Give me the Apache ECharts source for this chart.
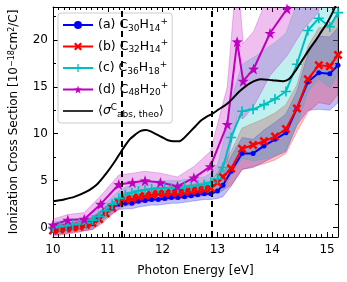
<!DOCTYPE html>
<html><head><meta charset="utf-8">
<script src="https://cdn.jsdelivr.net/npm/echarts@6/dist/echarts.min.js"></script>
<style>html,body{margin:0;padding:0;background:#fff}#c{width:347px;height:282px}</style>
</head><body><div id="c"></div><script>
// ---- data ----
const energyABC = [10.0,10.12,10.24,10.36,10.48,10.6,10.72,10.84,10.96,11.08,11.2,11.32,11.44,11.56,11.68,11.8,11.92,12.04,12.16,12.28,12.4,12.52,12.64,12.76,12.88,13.0,13.1,13.25,13.45,13.65,13.85,14.05,14.25,14.45,14.65,14.85,15.05,15.2];
const seriesA = [-0.3,-0.2,-0.1,0.0,0.1,0.2,0.4,1.0,1.6,2.1,2.5,2.6,2.6,2.8,2.9,3.0,3.0,3.1,3.2,3.2,3.3,3.4,3.5,3.6,3.6,3.9,4.5,6.0,7.9,7.9,8.7,9.4,10.1,12.7,15.5,16.5,16.4,17.3];
const errA    = [0.5,0.5,0.5,0.5,0.5,0.5,0.6,0.6,0.6,0.6,0.6,0.6,0.6,0.6,0.6,0.6,0.6,0.6,0.6,0.6,0.6,0.6,0.6,0.6,0.6,0.8,1.2,1.6,1.7,1.5,1.7,1.8,2.0,1.8,3.0,3.9,3.9,4.0];
const seriesB = [-0.3,-0.2,-0.1,0.0,0.1,0.3,0.5,0.9,1.5,2.1,2.7,3.0,3.1,3.3,3.4,3.5,3.6,3.6,3.7,3.7,3.8,3.9,4.0,4.1,4.2,4.8,5.4,6.3,8.4,8.8,9.2,9.7,10.5,12.7,15.8,17.3,17.2,18.4];
const errB    = [0.6,0.6,0.6,0.6,0.6,0.6,0.7,0.7,0.7,0.7,0.7,0.7,0.7,0.7,0.7,0.7,0.7,0.7,0.7,0.7,0.7,0.7,0.7,0.7,0.7,1.0,1.4,1.8,2.2,2.3,2.4,2.5,2.6,2.5,3.5,4.0,4.1,4.2];
const seriesC = [0.0,0.1,0.2,0.3,0.4,0.5,0.8,1.2,1.8,2.5,3.1,3.5,3.7,3.9,4.0,4.1,4.2,4.2,4.2,4.2,4.3,4.4,4.5,4.6,4.8,5.2,6.4,9.6,12.4,12.6,13.1,13.7,14.5,17.4,21.0,22.3,21.4,22.9];
const errC    = [0.6,0.6,0.6,0.6,0.6,0.6,0.8,0.8,0.8,0.8,0.8,0.8,0.8,0.8,0.8,0.8,0.8,0.8,0.8,0.8,0.8,0.8,0.8,0.8,1.0,1.5,2.5,4.0,5.0,5.5,5.8,6.0,6.2,6.5,6.5,6.5,6.5,6.5];
const energyD = [10.0,10.27,10.57,10.87,11.2,11.45,11.68,11.96,12.27,12.57,12.87,13.18,13.36,13.47,13.66,13.96,14.27,14.55,14.85];
const seriesD = [0.3,0.8,0.9,2.5,4.6,4.8,5.0,4.8,4.4,5.3,6.5,11.0,19.8,15.6,16.9,20.7,23.3,26.0,28.0];
const errD    = [0.6,0.6,0.7,0.9,1.0,1.0,1.0,1.0,1.0,1.2,1.6,4.0,8.0,4.0,4.0,4.5,5.0,5.0,5.0];
const energyTheo = [10.0,10.2,10.4,10.6,10.8,11.0,11.1,11.2,11.3,11.4,11.5,11.6,11.7,11.8,11.9,12.0,12.1,12.2,12.3,12.4,12.5,12.6,12.7,12.8,12.9,13.0,13.2,13.4,13.6,13.8,14.0,14.2,14.3,14.4,14.5,14.6,14.7,14.8,14.9,15.0,15.1,15.2];
const seriesTheo = [2.8,3.0,3.3,3.8,4.6,6.0,6.8,7.7,8.6,9.4,9.9,10.3,10.4,10.2,9.9,9.6,9.3,9.2,9.2,9.6,10.2,10.8,11.4,11.8,12.1,12.5,13.3,14.5,15.4,15.8,15.7,15.6,15.8,16.5,17.4,18.3,19.2,20.0,20.9,21.8,22.9,24.2];
const ionizationLines = [11.26, 12.9];
const yMajorTicks = [0, 5, 10, 15, 20];
const yMinorTicks = [2.5, 7.5, 12.5, 17.5, 22.5];
const legendNames = ['a', 'b', 'c', 'd', 'theo'];
const legendLabels = {
  a: '(a) C{s|30}H{s|14}{p|+}',
  b: '(b) C{s|32}H{s|14}{p|+}',
  c: '(c) C{s|36}H{s|18}{p|+}',
  d: '(d) C{s|48}H{s|20}{p|+}',
  theo: '\u27E8{i|\u03C3}{p|C}{s|abs, theo}\u27E9'
};

// ---- styling ----
const FONT = 'DejaVu Sans';
const COL = {a: '#0000ff', b: '#ff0000', c: '#00bfbf', d: '#bf00bf'};
const SYM_X = 'path://M2,0L5,3L8,0L10,2L7,5L10,8L8,10L5,7L2,10L0,8L3,5L0,2Z';
const SYM_PLUS = 'path://M4.2,0H5.8V4.2H10V5.8H5.8V10H4.2V5.8H0V4.2H4.2Z';
const SYM_STAR = 'path://M10,0L12.35,6.76L19.51,6.91L13.80,11.24L15.88,18.09L10,14L4.12,18.09L6.20,11.24L0.49,6.91L7.65,6.76Z';

function pairs(xs, ys) { return xs.map((x, i) => [x, ys[i]]); }

function band(xs, vals, errs, color) {
  return {
    type: 'custom', silent: true, clip: true, z: 1,
    data: [[xs[0], vals[0]]],
    renderItem: function (params, api) {
      const pts = [];
      for (let i = 0; i < xs.length; i++) pts.push(api.coord([xs[i], vals[i] - errs[i]]));
      for (let i = xs.length - 1; i >= 0; i--) pts.push(api.coord([xs[i], vals[i] + errs[i]]));
      return {type: 'polygon', shape: {points: pts},
        style: {fill: color, stroke: color, lineWidth: 1, opacity: 0.25}};
    }
  };
}

function line(name, xs, ys, color, symbol, size, extra) {
  return Object.assign({
    name: name, type: 'line', z: 3, data: pairs(xs, ys),
    symbol: symbol, symbolSize: size, showSymbol: true,
    lineStyle: {color: color, width: 2}, itemStyle: {color: color, borderWidth: 0},
    emphasis: {disabled: true}, clip: true
  }, extra || {});
}

const axisBase = {min: -1, max: 23.5, splitLine: {show: false}};
const yAxes = [
  Object.assign({type: 'value', position: 'left',
    axisLine: {show: true, lineStyle: {color: '#000', width: 1}},
    axisTick: {show: true, inside: true, length: 5, customValues: yMajorTicks, lineStyle: {color: '#000'}},
    axisLabel: {show: true, customValues: yMajorTicks, margin: 5, color: '#000', fontFamily: FONT, fontSize: 12},
    name: 'Ionization Cross Section [10{p|\u221218}cm{p|2}/C]',
    nameLocation: 'middle', nameGap: 33,
    nameTextStyle: {color: '#000', fontFamily: FONT, fontSize: 12,
      rich: {p: {fontSize: 8, verticalAlign: 'top', fontFamily: FONT, color: '#000'}}}
  }, axisBase),
  Object.assign({type: 'value', position: 'left',
    axisLine: {show: false},
    axisTick: {show: true, inside: true, length: 3, customValues: yMinorTicks, lineStyle: {color: '#000'}},
    axisLabel: {show: false}}, axisBase),
  Object.assign({type: 'value', position: 'right',
    axisLine: {show: true, lineStyle: {color: '#000', width: 1}},
    axisTick: {show: true, inside: true, length: 5, customValues: yMajorTicks, lineStyle: {color: '#000'}},
    axisLabel: {show: false}}, axisBase),
  Object.assign({type: 'value', position: 'right',
    axisLine: {show: false},
    axisTick: {show: true, inside: true, length: 3, customValues: yMinorTicks, lineStyle: {color: '#000'}},
    axisLabel: {show: false}}, axisBase)
];

const xBase = {type: 'value', min: 10, max: 15.2, interval: 1, splitLine: {show: false},
  minorTick: {show: true, splitNumber: 10, length: 3, lineStyle: {color: '#000'}}};
const xAxes = [
  Object.assign({}, xBase, {position: 'bottom',
    axisLine: {show: true, onZero: false, lineStyle: {color: '#000', width: 1}},
    axisTick: {show: true, inside: true, length: 5, lineStyle: {color: '#000'}},
    axisLabel: {show: true, margin: 7, color: '#000', fontFamily: FONT, fontSize: 12,
      formatter: v => (Math.abs(v - Math.round(v)) < 1e-6 ? String(Math.round(v)) : '')},
    name: 'Photon Energy [eV]', nameLocation: 'middle', nameGap: 28,
    nameTextStyle: {color: '#000', fontFamily: FONT, fontSize: 12}}),
  Object.assign({}, xBase, {position: 'top',
    axisLine: {show: true, onZero: false, lineStyle: {color: '#000', width: 1}},
    axisTick: {show: true, inside: true, length: 5, lineStyle: {color: '#000'}},
    axisLabel: {show: false}})
];

const option = {
  animation: false,
  backgroundColor: '#fff',
  grid: {left: 52, right: 9, top: 7, bottom: 44, containLabel: false},
  xAxis: xAxes,
  yAxis: yAxes,
  legend: {
    data: legendNames.map(n => n === 'theo'
      ? {name: n, icon: 'path://M0,4.2H30V5.8H0Z', itemStyle: {color: '#000'}}
      : {name: n}),
    orient: 'vertical', left: 58, top: 13,
    itemWidth: 30, itemHeight: 10, itemGap: 5.5,
    padding: [4, 4, 4, 4],
    backgroundColor: 'rgba(255,255,255,0.8)', borderColor: '#cccccc', borderWidth: 1, borderRadius: 3,
    formatter: n => legendLabels[n],
    textStyle: {color: '#000', fontFamily: FONT, fontSize: 12.5, lineHeight: 16,
      rich: {
        s: {fontSize: 9, verticalAlign: 'bottom', fontFamily: FONT, color: '#000'},
        p: {fontSize: 9, verticalAlign: 'top', fontFamily: FONT, color: '#000'},
        i: {fontSize: 12.5, fontStyle: 'italic', fontFamily: FONT, color: '#000'}
      }},
    selectedMode: false
  },
  series: [
    band(energyABC, seriesA, errA, COL.a),
    band(energyABC, seriesB, errB, COL.b),
    band(energyABC, seriesC, errC, COL.c),
    band(energyD, seriesD, errD, COL.d),
    line('a', energyABC, seriesA, COL.a, 'circle', 5),
    line('b', energyABC, seriesB, COL.b, SYM_X, 9),
    line('c', energyABC, seriesC, COL.c, SYM_PLUS, 10),
    line('d', energyD, seriesD, COL.d, SYM_STAR, 11),
    line('theo', energyTheo, seriesTheo, '#000', 'none', 0, {
      smooth: 0.3, showSymbol: false, z: 4,
      markLine: {silent: true, symbol: 'none', label: {show: false}, z: 5,
        lineStyle: {color: '#000', type: [6, 4], width: 2},
        data: ionizationLines.map(v => ({xAxis: v}))}
    })
  ]
};

const chart = echarts.init(document.getElementById('c'), null, {renderer: 'canvas'});
chart.setOption(option);
</script></body></html>
